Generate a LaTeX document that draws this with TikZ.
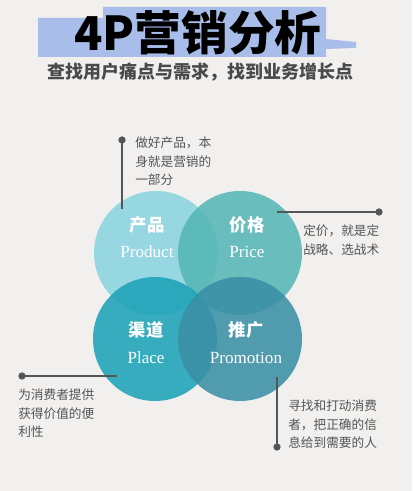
\documentclass[tikz,border=0pt]{standalone}
\usepackage{fontspec}
\setmainfont{Liberation Serif}
\newfontfamily\cjk{Noto Sans CJK SC}
\definecolor{bg}{HTML}{F2F0EE}
\definecolor{hl}{HTML}{A9BDEA}
\definecolor{cProduct}{HTML}{8AD4E1}
\definecolor{cPrice}{HTML}{55B6B6}
\definecolor{cPlace}{HTML}{1BA2B7}
\definecolor{cPromo}{HTML}{3A8FA5}
\definecolor{ink}{HTML}{4A4A4A}
\definecolor{anno}{HTML}{555555}
\tikzset{
  circ/.style={fill opacity=0.87, draw=none},
  cjklabel/.style={text=white, font=\cjk\bfseries\fontsize{13}{15}\selectfont},
  enlabel/.style={text=white, font=\fontsize{12.8}{14}\selectfont},
  annot/.style={text=anno, anchor=north west, align=left, inner sep=0pt,
    font=\cjk\fontsize{9.5}{13.9}\selectfont},
  lead/.style={draw=anno, line width=1.9pt},
  dot/.style={circle, fill=anno, inner sep=0pt, minimum size=5.5pt},
}
\begin{document}
\begin{tikzpicture}[x=0.75pt,y=-0.75pt]
\fill[bg] (0,0) rectangle (412,491);
\useasboundingbox (0,0) rectangle (412,491);
% highlight brush
\fill[hl] (38,18) -- (103,18) -- (103,7) -- (326,7) -- (326,39) -- (356,42) -- (356,48) -- (326,49) -- (326,57) -- (38,57) -- cycle;
\node (title) at (198,33) {\cjk\bfseries\fontsize{35}{40}\selectfont 4P营销分析};
\node[text=ink] (sub) at (200,72) {\cjk\bfseries\fontsize{13.5}{16}\selectfont 查找用户痛点与需求，找到业务增长点};
% circles
\fill[circ, cProduct] (156,253) circle (62);
\fill[circ, cPrice] (240,253) circle (62);
\fill[circ, cPlace] (155,339) circle (62);
\fill[circ, cPromo] (240,339) circle (62);
\node[cjklabel] (p1) at (147,225) {产品};
\node[enlabel] (e1) at (147,252) {Product};
\node[cjklabel] (p2) at (247,225) {价格};
\node[enlabel] (e2) at (247,252) {Price};
\node[cjklabel] (p3) at (146,330) {渠道};
\node[enlabel] (e3) at (146,358) {Place};
\node[cjklabel] (p4) at (246,330) {推广};
\node[enlabel] (e4) at (246,358) {Promotion};
% annotation 1
\node[dot] (d1) at (122,140) {};
\coordinate (l1) at (122,209);
\draw[lead] (d1.center) -- (l1);
\node[annot] (t1) at (135,137) {做好产品，本\\身就是营销的\\一部分};
% annotation 2
\node[dot] (d2) at (379,212) {};
\coordinate (l2) at (277,212);
\draw[lead] (d2.center) -- (l2);
\node[annot] (t2) at (303,225) {定价，就是定\\战略、选战术};
% annotation 3
\node[dot] (d3) at (22,376) {};
\coordinate (l3) at (117,376);
\draw[lead] (d3.center) -- (l3);
\node[annot] (t3) at (18,389) {为消费者提供\\获得价值的便\\利性};
% annotation 4
\node[dot] (d4) at (277,447) {};
\coordinate (l4) at (277,377);
\draw[lead] (d4.center) -- (l4);
\node[annot] (t4) at (288,400) {寻找和打动消费\\者，把正确的信\\息给到需要的人};
\end{tikzpicture}
\end{document}
